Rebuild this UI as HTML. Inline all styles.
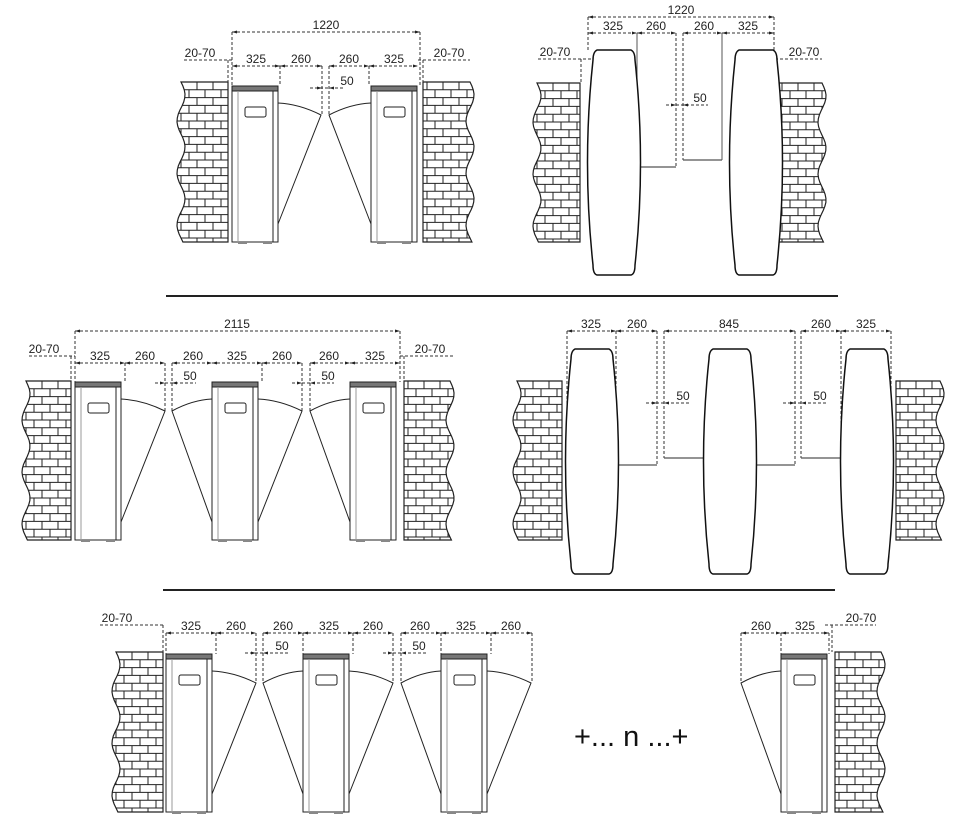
<!DOCTYPE html>
<html><head><meta charset="utf-8"><style>
html,body{margin:0;padding:0;background:#fff;}
svg{display:block;}
text{font-family:"Liberation Sans",sans-serif;font-size:12px;fill:#222;}
</style></head><body>
<svg id="s" width="978" height="824" viewBox="0 0 978 824" xmlns="http://www.w3.org/2000/svg">
<line x1="166" y1="296" x2="838" y2="296" stroke="#222" stroke-width="2"/>
<line x1="163" y1="590" x2="835" y2="590" stroke="#222" stroke-width="2"/>
<text x="574" y="746" style="font-size:29px;fill:#111">+... n ...+</text>
</svg>
<script>
var S=document.getElementById('s'),out='',cid=0;
function wall(x1,x2,y1,y2,side){
  var n=40,y,x,i;
  var pts=[];
  for(i=0;i<=n;i++){y=y1+(y2-y1)*i/n;var w=4*Math.sin(2*Math.PI*(y-y1)/52);pts.push([w,y]);}
  var d;
  if(side=='L'){d='M'+x2+','+y1+' L'+(x1+pts[0][0])+','+y1;for(i=1;i<=n;i++)d+=' L'+(x1+pts[i][0]).toFixed(1)+','+pts[i][1].toFixed(1);d+=' L'+x2+','+y2+'Z';}
  else{d='M'+x1+','+y1+' L'+(x2+pts[0][0])+','+y1;for(i=1;i<=n;i++)d+=' L'+(x2+pts[i][0]).toFixed(1)+','+pts[i][1].toFixed(1);d+=' L'+x1+','+y2+'Z';}
  cid++;
  out+='<clipPath id="c'+cid+'"><path d="'+d+'"/></clipPath><g clip-path="url(#c'+cid+')" stroke="#222" stroke-width="1">';
  var r=0;for(y=y1;y<y2;y+=7.8,r++){
    out+='<line x1="'+(x1-6)+'" y1="'+y.toFixed(1)+'" x2="'+(x2+6)+'" y2="'+y.toFixed(1)+'"/>';
    for(x=x1-16+(r%2)*8+(side=='R'?4:0);x<x2+6;x+=16){out+='<line x1="'+x+'" y1="'+y.toFixed(1)+'" x2="'+x+'" y2="'+(y+7.8).toFixed(1)+'"/>';}
  }
  out+='</g><path d="'+d+'" fill="none" stroke="#222" stroke-width="1.2"/>';
}
function cab(x,yt,yb,wl,wr){
  var w=46;
  out+='<rect x="'+x+'" y="'+yt+'" width="'+w+'" height="5" fill="#777" stroke="#222"/>';
  out+='<rect x="'+x+'" y="'+(yt+5)+'" width="'+w+'" height="'+(yb-yt-5)+'" fill="#fff" stroke="#222"/>';
  out+='<line x1="'+(x+6)+'" y1="'+(yt+5)+'" x2="'+(x+6)+'" y2="'+yb+'" stroke="#999"/>';
  out+='<line x1="'+(x+41)+'" y1="'+(yt+5)+'" x2="'+(x+41)+'" y2="'+yb+'" stroke="#222"/>';
  out+='<rect x="'+(x+13)+'" y="'+(yt+21)+'" width="21" height="10" rx="2" fill="none" stroke="#222"/>';
  out+='<rect x="'+(x+6)+'" y="'+yb+'" width="9" height="2" fill="#888"/><rect x="'+(x+31)+'" y="'+yb+'" width="9" height="2" fill="#888"/>';
  var a=yt+17,b=yt+29,c=yb-18;
  if(wr){var e=x+w;out+='<path d="M'+e+','+a+' Q'+((e+wr)/2)+','+(a+1)+' '+wr+','+b+' L'+e+','+c+'" fill="none" stroke="#222"/>';}
  if(wl){var e=x;out+='<path d="M'+e+','+a+' Q'+((e+wl)/2)+','+(a+1)+' '+wl+','+b+' L'+e+','+c+'" fill="none" stroke="#222"/>';}
}
function pillar(x1,x2,yt,yb){
  var m=(yt+yb)/2;
  out+='<path d="M'+(x1+7)+','+yt+' L'+(x2-7)+','+yt+' Q'+(x2-3)+','+(yt+2)+' '+(x2-3)+','+(yt+10)+' Q'+(x2+8)+','+m+' '+(x2-3)+','+(yb-10)+' Q'+(x2-3)+','+(yb-1)+' '+(x2-7)+','+yb+' L'+(x1+7)+','+yb+' Q'+(x1+3)+','+(yb-1)+' '+(x1+3)+','+(yb-10)+' Q'+(x1-8)+','+m+' '+(x1+3)+','+(yt+10)+' Q'+(x1+3)+','+(yt+2)+' '+(x1+7)+','+yt+'Z" fill="#fff" stroke="#111" stroke-width="1.5"/>';
}
function ar(x,y,dir){out+='<path d="M'+x+','+y+' l'+(-5*dir)+',-1.5 l0,3z" fill="#222"/>';}
function dim(x1,x2,y,t,tx){
  out+='<line x1="'+x1+'" y1="'+y+'" x2="'+x2+'" y2="'+y+'" stroke="#333" stroke-dasharray="3,2"/>';
  ar(x1,y,-1);ar(x2,y,1);
  out+='<text x="'+(tx||(x1+x2)/2)+'" y="'+(y-3)+'" text-anchor="middle">'+t+'</text>';
}
function vd(x,y1,y2,solid){out+='<line x1="'+x+'" y1="'+y1+'" x2="'+x+'" y2="'+y2+'" stroke="'+(solid?'#555':'#333')+'" '+(solid?'':'stroke-dasharray="3,2"')+'/>';}
function hs(x1,x2,y){out+='<line x1="'+x1+'" y1="'+y+'" x2="'+x2+'" y2="'+y+'" stroke="#555" stroke-width="1.3"/>';}
function lbl(x1,x2,y,t,tx){out+='<line x1="'+x1+'" y1="'+y+'" x2="'+x2+'" y2="'+y+'" stroke="#333" stroke-dasharray="3,2"/><text x="'+tx+'" y="'+(y-3)+'" text-anchor="middle">'+t+'</text>';}
function fifty(x1,xa,xb,x2,y,tx){out+='<line x1="'+x1+'" y1="'+y+'" x2="'+x2+'" y2="'+y+'" stroke="#333" stroke-dasharray="3,2"/>';ar(xa,y,1);ar(xb,y,-1);out+='<text x="'+tx+'" y="'+(y-3)+'" text-anchor="middle">50</text>';}

wall(181,228,82,242,'L');wall(423,470,82,242,'R');
cab(232,86,242,null,321);cab(371,86,242,329,null);
dim(232,420,32,'1220',326);vd(232,32,86);vd(420,32,86);
dim(232,280,66,'325',256);dim(280,322,66,'260',301);dim(329,369,66,'260',349);dim(369,418,66,'325',394);
vd(280,66,86);vd(322,66,115);vd(329,66,115);vd(369,66,86);
lbl(184,232,60,'20-70',200);lbl(418,470,60,'20-70',449);vd(228,60,82);vd(423,60,82);
fifty(310,322,329,345,88,347);

wall(537,580,83,242,'L');wall(778,822,83,242,'R');
dim(588,774,17,'1220',681);vd(588,17,50);vd(774,17,50);
dim(588,637,33,'325',613);dim(637,676,33,'260',656);dim(683,722,33,'260',704);dim(722,774,33,'325',748);
vd(637,33,167,true);vd(676,33,167);vd(683,33,160);vd(722,33,160,true);
hs(637,676,167);hs(683,722,160);
lbl(538,593,59,'20-70',555);lbl(770,822,59,'20-70',804);vd(581,59,83);vd(777,59,83);
fifty(666,676,683,708,105,700);
pillar(590,638,50,275);pillar(732,780,50,275);

wall(26,71,381,540,'L');wall(404,450,381,540,'R');
cab(75,382,540,null,165);cab(212,382,540,172,302);cab(350,382,540,310,null);
dim(75,400,331,'2115',237);vd(75,331,382);vd(400,331,382);
dim(75,125,363,'325',100);dim(125,165,363,'260',145);dim(172,212,363,'260',193);dim(212,262,363,'325',237);dim(262,302,363,'260',282);dim(310,350,363,'260',329);dim(350,400,363,'325',375);
vd(125,363,382);vd(165,363,411);vd(172,363,411);vd(262,363,382);vd(302,363,411);vd(310,363,411);
fifty(155,165,172,196,383,190);fifty(292,302,310,334,383,328);
lbl(29,75,356,'20-70',44);lbl(400,455,356,'20-70',430);vd(71,356,381);vd(404,356,381);

wall(517,562,381,540,'L');wall(896,940,381,540,'R');
dim(567,616,331,'325',591);dim(616,657,331,'260',637);dim(664,795,331,'845',729);dim(801,841,331,'260',821);dim(841,891,331,'325',866);
vd(567,331,420);vd(616,331,465);vd(657,331,465);vd(664,331,458);vd(795,331,465);vd(801,331,458);vd(841,331,458);vd(891,331,440);
hs(617,657,465);hs(664,705,458);hs(754,795,465);hs(801,842,458);
fifty(646,657,664,690,403,683);fifty(783,795,801,826,403,820);
pillar(568,616,349,574);pillar(706,754,349,574);pillar(843,891,349,574);

wall(116,163,652,812,'L');
cab(166,654,812,null,256);cab(303,654,812,263,393);cab(441,654,812,401,531);
dim(166,216,633,'325',191);dim(216,256,633,'260',236);dim(263,303,633,'260',283);dim(303,353,633,'325',329);dim(353,393,633,'260',373);dim(401,441,633,'260',420);dim(441,491,633,'325',466);dim(491,532,633,'260',511);
vd(166,633,654);vd(216,633,654);vd(256,633,683);vd(263,633,683);vd(303,633,654);vd(353,633,654);vd(393,633,683);vd(401,633,683);vd(441,633,654);vd(491,633,654);vd(532,633,683);
fifty(245,256,263,290,653,282);fifty(383,393,401,427,653,419);
lbl(100,165,625,'20-70',117);vd(163,625,652);

wall(835,881,652,812,'R');
cab(781,654,812,741,null);
dim(741,781,633,'260',761);dim(781,829,633,'325',805);vd(741,633,683);vd(781,633,654);vd(829,633,654);
lbl(825,876,625,'20-70',861);vd(832,625,652);
S.insertAdjacentHTML('beforeend',out);
</script>
</body></html>
